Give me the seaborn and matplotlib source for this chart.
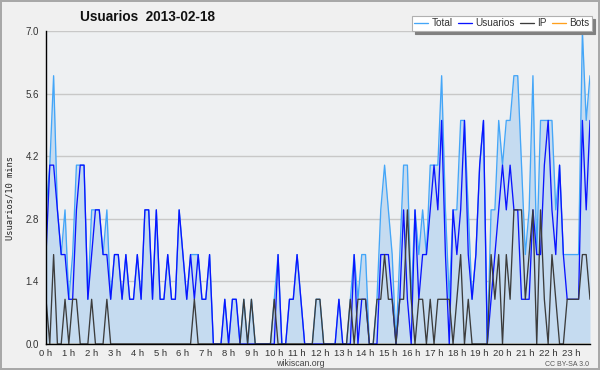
#!/usr/bin/env python3
"""Usuarios por franja de 10 minutos, 2013-02-18 (estilo wikiscan)."""

import matplotlib
matplotlib.use("Agg")
import matplotlib.pyplot as plt
from matplotlib import font_manager
from matplotlib.ticker import MultipleLocator, FuncFormatter
import numpy as np
import pandas as pd
import seaborn as sns

# one value per 10-minute slot, 0 h 00 .. 23 h 50 (144 slots)
total = [
    3, 4, 6, 3, 2, 3, 1, 2, 4, 4, 4, 1, 3, 3, 3, 2, 3, 1, 2, 2, 1, 2, 1, 1,
    2, 1, 3, 3, 1, 3, 1, 1, 2, 1, 1, 3, 2, 1, 2, 2, 2, 1, 1, 2, 0, 0, 0, 1,
    0, 1, 1, 0, 1, 0, 1, 0, 0, 0, 0, 0, 1, 2, 0, 0, 1, 1, 2, 1, 0, 0, 0, 1,
    1, 0, 0, 0, 0, 1, 0, 0, 1, 2, 1, 2, 2, 0, 0, 1, 3, 4, 3, 2, 0, 2, 4, 4,
    1, 3, 2, 3, 2, 4, 4, 4, 6, 3, 1, 3, 3, 5, 5, 3, 1, 2, 4, 5, 0, 3, 3, 5,
    4, 5, 5, 6, 6, 4, 2, 3, 6, 2, 5, 5, 5, 5, 3, 4, 2, 2, 2, 2, 2, 7, 5, 6,
]
usuarios = [
    2, 4, 4, 3, 2, 2, 1, 1, 3, 4, 4, 1, 2, 3, 3, 2, 2, 1, 2, 2, 1, 2, 1, 1,
    2, 1, 3, 3, 1, 3, 1, 1, 2, 1, 1, 3, 2, 1, 2, 1, 2, 1, 1, 2, 0, 0, 0, 1,
    0, 1, 1, 0, 0, 0, 0, 0, 0, 0, 0, 0, 0, 2, 0, 0, 1, 1, 2, 1, 0, 0, 0, 0,
    0, 0, 0, 0, 0, 1, 0, 0, 0, 2, 0, 1, 1, 0, 0, 0, 2, 2, 2, 1, 0, 1, 3, 1,
    0, 3, 1, 2, 2, 3, 4, 3, 5, 2, 0, 3, 2, 3, 5, 2, 1, 2, 4, 5, 0, 1, 2, 3,
    4, 3, 4, 3, 3, 1, 1, 1, 3, 2, 2, 4, 5, 3, 2, 4, 2, 1, 1, 1, 1, 5, 3, 5,
]
ip = [
    1, 0, 2, 0, 0, 1, 0, 1, 1, 0, 0, 0, 1, 0, 0, 0, 1, 0, 0, 0, 0, 0, 0, 0,
    0, 0, 0, 0, 0, 0, 0, 0, 0, 0, 0, 0, 0, 0, 0, 1, 0, 0, 0, 0, 0, 0, 0, 0,
    0, 0, 0, 0, 1, 0, 1, 0, 0, 0, 0, 0, 1, 0, 0, 0, 0, 0, 0, 0, 0, 0, 0, 1,
    1, 0, 0, 0, 0, 0, 0, 0, 1, 0, 1, 1, 1, 0, 0, 1, 1, 2, 1, 1, 0, 1, 1, 3,
    1, 0, 1, 1, 0, 1, 0, 1, 1, 1, 1, 0, 1, 2, 0, 1, 0, 0, 0, 0, 0, 2, 1, 2,
    0, 2, 1, 3, 3, 3, 1, 2, 3, 0, 3, 1, 0, 2, 1, 0, 0, 1, 1, 1, 1, 2, 2, 1,
]
bots = [
    0, 0, 0, 0, 0, 0, 0, 0, 0, 0, 0, 0, 0, 0, 0, 0, 0, 0, 0, 0, 0, 0, 0, 0,
    0, 0, 0, 0, 0, 0, 0, 0, 0, 0, 0, 0, 0, 0, 0, 0, 0, 0, 0, 0, 0, 0, 0, 0,
    0, 0, 0, 0, 0, 0, 0, 0, 0, 0, 0, 0, 0, 0, 0, 0, 0, 0, 0, 0, 0, 0, 0, 0,
    0, 0, 0, 0, 0, 0, 0, 0, 0, 0, 0, 0, 0, 0, 0, 0, 0, 0, 0, 0, 0, 0, 0, 0,
    0, 0, 0, 0, 0, 0, 0, 0, 0, 0, 0, 0, 0, 0, 0, 0, 0, 0, 0, 0, 0, 0, 0, 0,
    0, 0, 0, 0, 0, 0, 0, 0, 0, 0, 0, 0, 0, 0, 0, 0, 0, 0, 0, 0, 0, 0, 0, 0,
]
hours = list(range(24))
hour_labels = [f"{h} h" for h in hours]


def pick_font(names):
    for name in names:
        try:
            font_manager.findfont(font_manager.FontProperties(family=name),
                                  fallback_to_default=False)
            return name
        except ValueError:
            pass
    return "DejaVu Sans"


def main():
    sns.set_style("white")
    narrow = pick_font(["Liberation Sans Narrow", "Liberation Sans"])
    plt.rcParams["font.family"] = [narrow, "DejaVu Sans"]

    df = pd.DataFrame({
        "hora": np.arange(len(total)) / 6.0,
        "Total": total,
        "Usuarios": usuarios,
        "IP": ip,
        "Bots": bots,
    })

    fig = plt.figure(figsize=(6.0, 3.7), dpi=100, facecolor="#f0f0f0",
                     edgecolor="#a8a8a8", linewidth=1.5)
    ax = fig.add_axes([46 / 600, 26 / 370, 544 / 600, 313 / 370])
    ax.set_facecolor("#eef0f2")

    ax.fill_between(df["hora"], df["Total"], color="#c5dbf0", lw=0, zorder=1)
    colors = {"Total": "#44a6f8", "Usuarios": "#0a14ff",
              "IP": "#3c3c3c", "Bots": "#ffa01c"}
    zorders = {"Total": 3, "Usuarios": 4, "IP": 5, "Bots": 2}
    for col in ["Total", "Usuarios", "IP", "Bots"]:
        sns.lineplot(data=df, x="hora", y=col, ax=ax, color=colors[col],
                     lw=0.95, label=col, zorder=zorders[col])

    ax.set_xlim(0, df["hora"].iloc[-1])
    ax.set_ylim(0, 7.0)

    ax.xaxis.set_major_locator(MultipleLocator(1))
    ax.xaxis.set_minor_locator(MultipleLocator(1 / 6))
    ax.xaxis.set_major_formatter(
        FuncFormatter(lambda v, p: hour_labels[int(round(v))]
                      if 0 <= round(v) < len(hour_labels) else ""))
    ax.yaxis.set_major_locator(MultipleLocator(1.4))
    ax.yaxis.set_minor_locator(MultipleLocator(0.35))
    ax.yaxis.set_major_formatter(FuncFormatter(lambda v, p: f"{v:.1f}"))

    ax.tick_params(axis="both", which="major", direction="out", length=4,
                   width=0.9, color="black", labelsize=7,
                   labelcolor="#333333", pad=1)
    ax.tick_params(axis="both", which="minor", direction="out", length=2.5,
                   width=0.8, color="black")
    ax.tick_params(axis="x", which="major", length=3.5, pad=0, labelsize=6.8)

    ax.grid(axis="y", which="major", color="#c8c8c8", lw=1)
    ax.set_axisbelow(True)
    for side in ["top", "right"]:
        ax.spines[side].set_visible(False)
    for side in ["left", "bottom"]:
        ax.spines[side].set_color("black")
        ax.spines[side].set_linewidth(1)
        ax.spines[side].set_zorder(6)

    ax.set_xlabel("")
    ax.set_ylabel("")
    fig.text(10 / 600, 1 - 198 / 370, "Usuarios/10 mins", rotation=90,
             ha="center", va="center", fontsize=6.3, color="#222222",
             family=["DejaVu Sans Mono"])

    fig.text(80 / 600, 1 - 17 / 370, "Usuarios  2013-02-18", ha="left",
             va="center", fontsize=9.8, fontweight="bold", color="#111111")

    handles, labels = ax.get_legend_handles_labels()
    ax.get_legend().remove()
    leg = fig.legend(handles, labels, loc="upper right", ncol=4,
                     bbox_to_anchor=(592 / 600, 1 - 16 / 370),
                     fontsize=7.2, frameon=True, fancybox=False,
                     shadow={"color": "#808080", "alpha": 1},
                     handlelength=1.4, handletextpad=0.35, columnspacing=0.5,
                     borderpad=0.25, borderaxespad=0)
    leg.get_frame().set_edgecolor("#b0b0b0")
    leg.get_frame().set_linewidth(0.8)
    leg.get_frame().set_facecolor("white")
    for t in leg.get_texts():
        t.set_color("#333333")

    fig.text(300 / 600, 1 - 364 / 370, "wikiscan.org", ha="center",
             va="center", fontsize=6.3, color="#444444")
    fig.text(567 / 600, 1 - 364 / 370, "CC BY-SA 3.0", ha="center",
             va="center", fontsize=5, color="#555555")

    fig.savefig("out.png", dpi=100, facecolor=fig.get_facecolor(),
                edgecolor=fig.get_edgecolor())
    plt.close(fig)


if __name__ == "__main__":
    main()
